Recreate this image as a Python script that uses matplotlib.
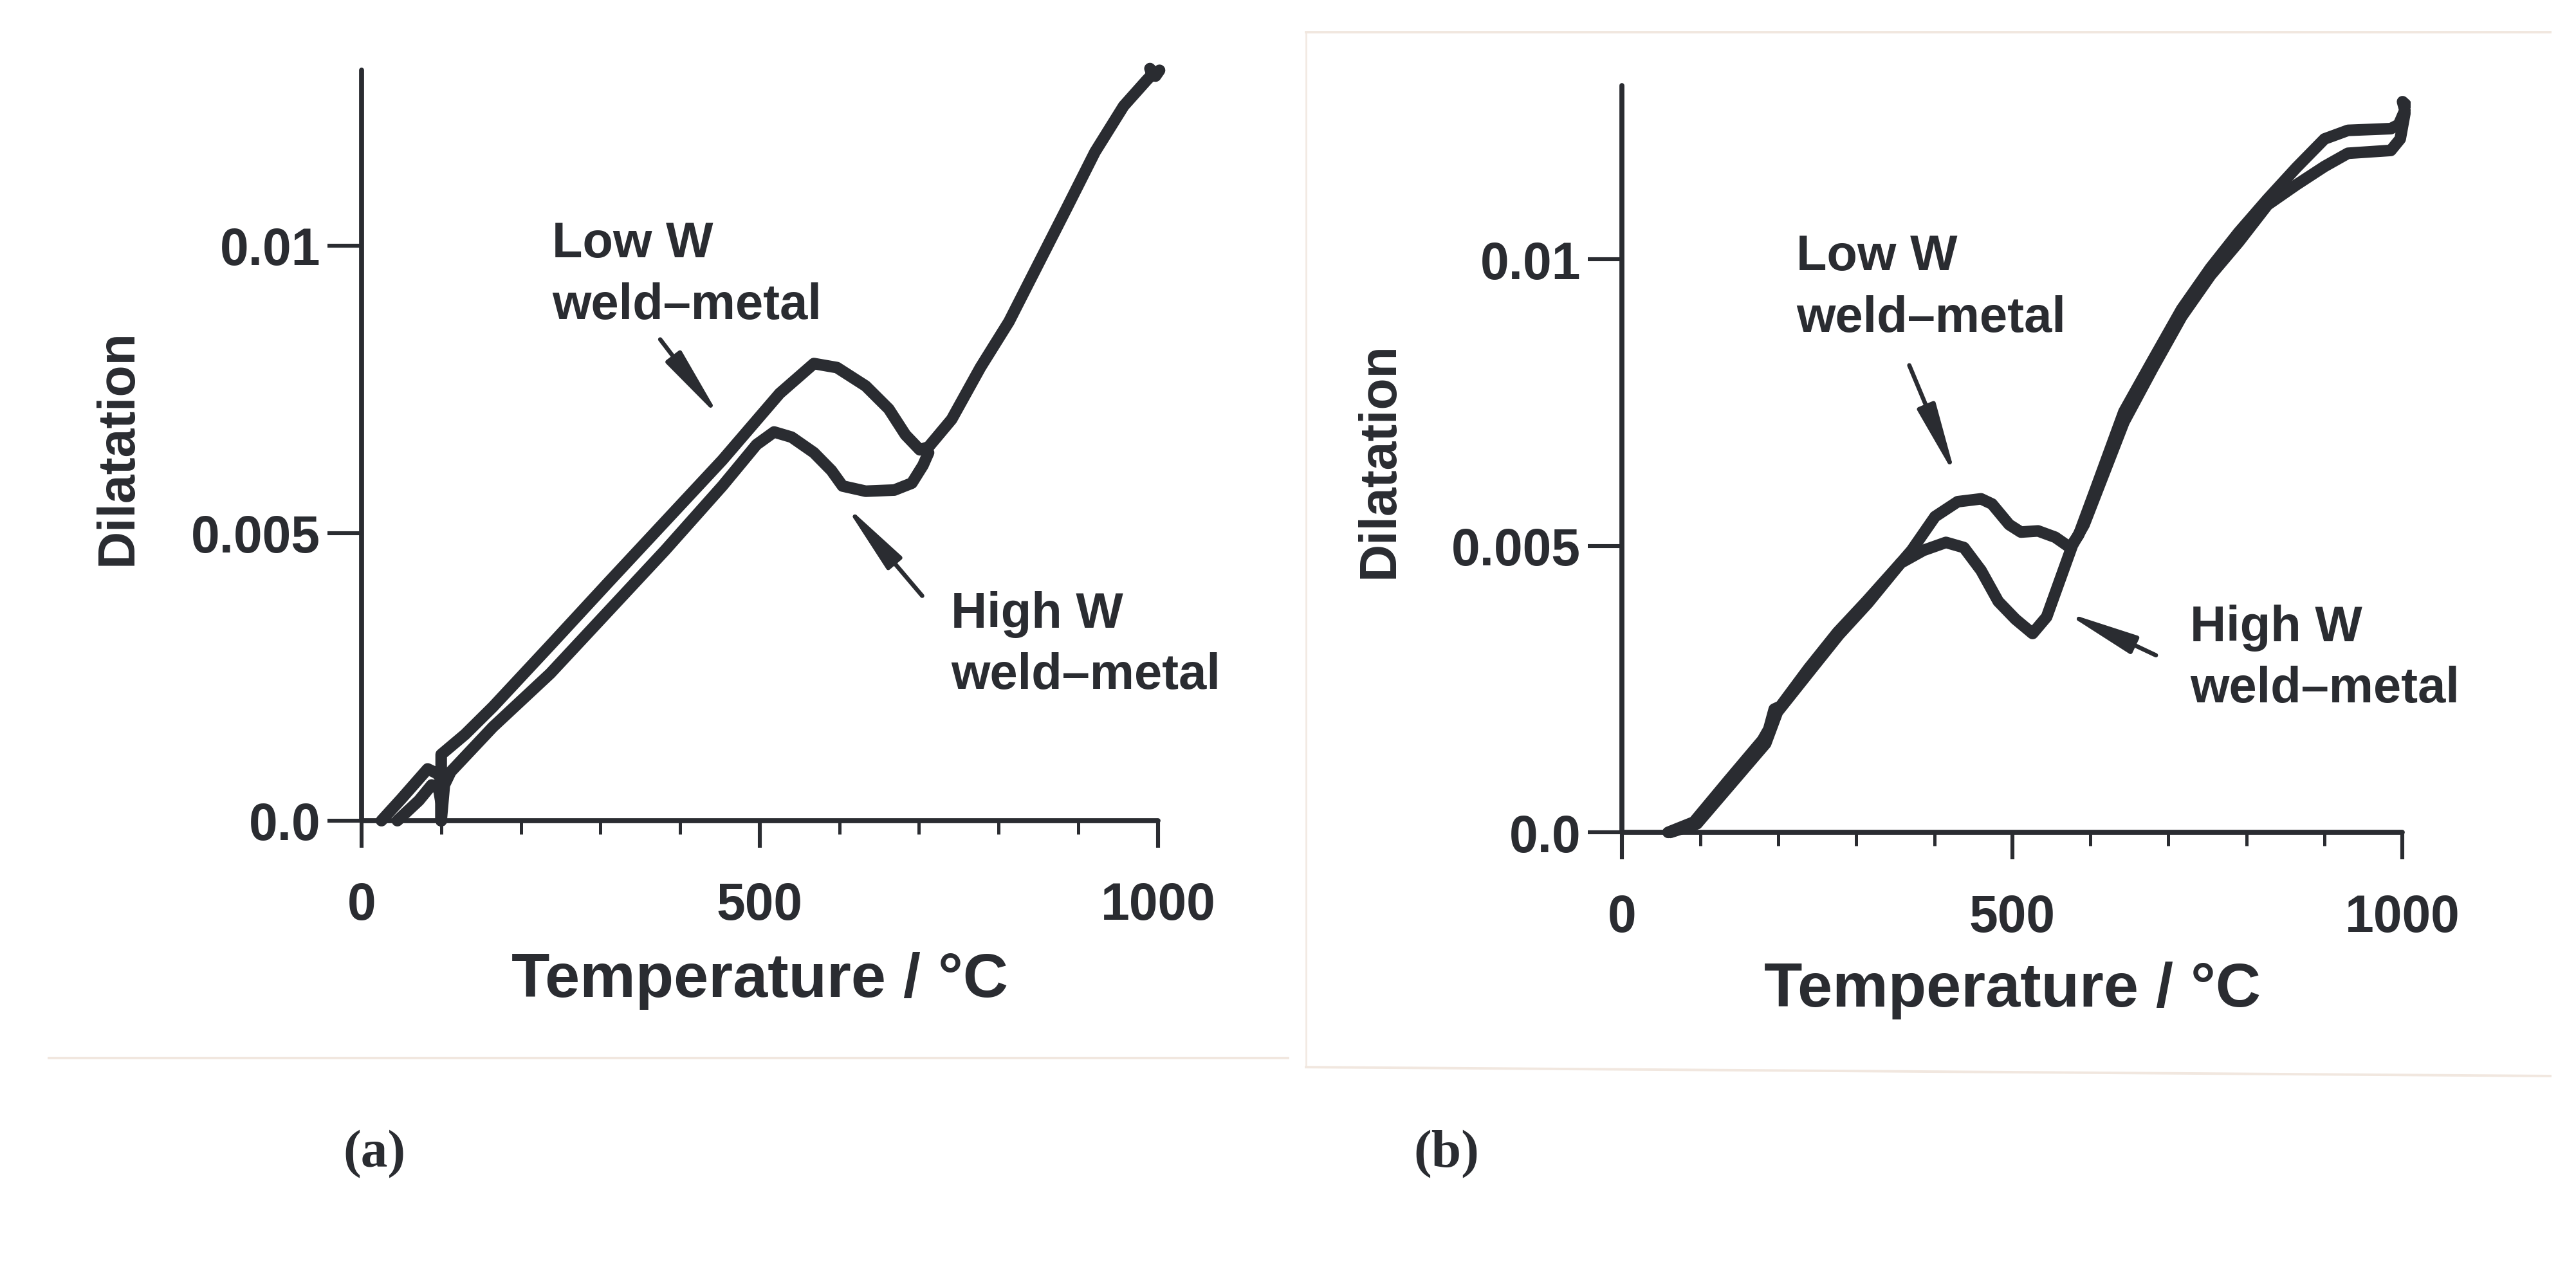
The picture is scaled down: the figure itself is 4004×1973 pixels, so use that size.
import matplotlib
matplotlib.use("Agg")
import matplotlib.pyplot as plt
from matplotlib.ticker import FixedLocator, MultipleLocator, FixedFormatter
from matplotlib.lines import Line2D

# ---------------- data (temperature / degC, dilatation x1e-3) ----------------
a_low_T = [25, 50, 83, 95, 100, 100, 100, 130, 165, 237, 309, 381, 453, 489, 525,
           568, 597, 633, 662, 683, 701, 712, 741, 777, 813, 849, 885, 921, 957,
           986, 993, 990, 997, 1002]
a_low_D = [0.0, 0.38, 0.9, 0.82, 0.72, 0.0, 1.15, 1.5, 1.98, 3.05, 4.13, 5.2, 6.27,
           6.85, 7.43, 7.95, 7.88, 7.56, 7.16, 6.71, 6.45, 6.5, 6.98, 7.88, 8.68,
           9.66, 10.64, 11.63, 12.43, 12.88, 12.98, 13.08, 12.95, 13.05]

a_high_T = [45, 72, 88, 97, 100, 100, 104, 112, 165, 237, 309, 381, 453, 496, 518,
            540, 568, 590, 604, 633, 669, 691, 705, 712]
a_high_D = [0.0, 0.35, 0.62, 0.55, 0.3, 0.0, 0.62, 0.85, 1.63, 2.56, 3.63, 4.7,
            5.82, 6.54, 6.76, 6.67, 6.4, 6.09, 5.82, 5.73, 5.75, 5.87, 6.18, 6.4]

b_low_T = [59, 92, 136, 180, 188, 195, 203, 239, 276, 313, 357, 371, 401, 430, 460,
           474, 496, 511, 533, 555, 574, 585, 607, 643, 680, 717, 754, 790, 827,
           864, 900, 930, 985, 995, 1003, 1000, 1004]
b_low_D = [0.0, 0.18, 0.9, 1.61, 1.8, 2.15, 2.2, 2.86, 3.49, 4.03, 4.7, 4.92, 5.51,
           5.77, 5.82, 5.73, 5.37, 5.24, 5.26, 5.15, 4.97, 5.19, 6.0, 7.34, 8.24,
           9.13, 9.85, 10.47, 11.05, 11.6, 12.1, 12.25, 12.28, 12.35, 12.6, 12.75,
           12.7]

b_high_T = [62, 96, 140, 184, 199, 241, 278, 315, 357, 386, 415, 438, 460, 482, 504,
            526, 544, 563, 577, 592, 643, 680, 717, 754, 790, 827, 864, 900, 930,
            985, 997, 1003]
b_high_D = [0.0, 0.15, 0.85, 1.55, 2.1, 2.82, 3.45, 4.0, 4.7, 4.92, 5.06, 4.97,
            4.57, 4.03, 3.72, 3.47, 3.76, 4.48, 5.01, 5.37, 7.16, 8.1, 9.0, 9.72,
            10.3, 10.95, 11.3, 11.62, 11.85, 11.9, 12.1, 12.55]

y_ticks = [0.0, 0.005, 0.01]
y_tick_labels = ["0.0", "0.005", "0.01"]
x_ticks = [0, 500, 1000]
x_tick_labels = ["0", "500", "1000"]

x_label = "Temperature / °C"
y_label = "Dilatation"
low_label = ["Low W", "weld–metal"]
high_label = ["High W", "weld–metal"]
panel_labels = ["(a)", "(b)"]

INK = "#2a2c31"
SANS = ["Liberation Sans", "DejaVu Sans"]
SERIF = ["Liberation Serif", "DejaVu Serif"]

fig = plt.figure(figsize=(20.02, 9.87), dpi=200)
fig.patch.set_facecolor("white")

# faint scan borders
fig.add_artist(Line2D([0.019, 0.50], [0.166, 0.166], color="#f1e7df", lw=1.4))
fig.add_artist(Line2D([0.507, 0.507], [0.159, 0.974], color="#f2e9e2", lw=1.0))
fig.add_artist(Line2D([0.507, 0.99], [0.974, 0.974], color="#f1e7df", lw=1.4))
fig.add_artist(Line2D([0.507, 0.99], [0.159, 0.152], color="#f1e7df", lw=1.4))

panels = [
    dict(pos=[0.1218, 0.3169, 0.3308, 0.6340], low=(a_low_T, a_low_D),
         high=(a_high_T, a_high_D), ytop=0.01305,
         low_txt=(239, 9.81), high_txt=(740, 3.37),
         low_arrow=((375, 8.37), (451, 6.99)), high_arrow=((704, 3.91), (606, 5.51)),
         ylabel_x=184, xlabel_y=1525, panel_xy=(582, 1795)),
    dict(pos=[0.6115, 0.3078, 0.3242, 0.6319], low=(b_low_T, b_low_D),
         high=(b_high_T, b_high_D), ytop=0.01303,
         low_txt=(223, 9.82), high_txt=(728, 3.35),
         low_arrow=((368, 8.15), (428, 6.19)), high_arrow=((684, 3.09), (566, 3.85)),
         ylabel_x=2145, xlabel_y=1540, panel_xy=(2248, 1795)),
]

W, H = 4004, 1974
for i, p in enumerate(panels):
    ax = fig.add_axes(p["pos"])
    ax.set_xlim(-60, 1010)
    ax.set_ylim(-0.0008, 0.0132)
    for k in ("top", "right"):
        ax.spines[k].set_visible(False)
    for k in ("left", "bottom"):
        ax.spines[k].set_linewidth(2.8)
        ax.spines[k].set_color(INK)
        ax.spines[k].set_capstyle("round")
        ax.spines[k].set_position(("data", 0))
    ax.spines["left"].set_bounds(0, p["ytop"])
    ax.spines["bottom"].set_bounds(0, 1000)

    for T, D in (p["low"], p["high"]):
        ax.plot(T, [d * 1e-3 for d in D], color=INK, lw=6.5,
                solid_joinstyle="round", solid_capstyle="round", zorder=3)

    ax.yaxis.set_major_locator(FixedLocator(y_ticks))
    ax.yaxis.set_major_formatter(FixedFormatter(y_tick_labels))
    ax.xaxis.set_major_locator(FixedLocator(x_ticks))
    ax.xaxis.set_major_formatter(FixedFormatter(x_tick_labels))
    ax.xaxis.set_minor_locator(MultipleLocator(100))
    ax.tick_params(axis="y", which="major", direction="out", length=19, width=2.2,
                   color=INK, pad=4, labelsize=29, labelcolor=INK)
    ax.tick_params(axis="x", which="major", direction="out", length=15, width=2.2,
                   color=INK, pad=19, labelsize=29, labelcolor=INK)
    ax.tick_params(axis="x", which="minor", direction="out", length=7.5, width=1.8,
                   color=INK)
    for lab in ax.get_xticklabels() + ax.get_yticklabels():
        lab.set_family(SANS)
        lab.set_fontweight("bold")

    # annotations
    for (tx, ty), lines in ((p["low_txt"], low_label), (p["high_txt"], high_label)):
        ax.text(tx, ty * 1e-3, lines[0], fontsize=28, fontweight="bold",
                family=SANS, color=INK, ha="left", va="baseline")
        ax.text(tx, (ty - 1.07) * 1e-3, lines[1], fontsize=28, fontweight="bold",
                family=SANS, color=INK, ha="left", va="baseline")

    for (t0, d0), (t1, d1) in [p["low_arrow"], p["high_arrow"]]:
        ax.annotate("", xy=(t1, d1 * 1e-3), xytext=(t0, d0 * 1e-3),
                    arrowprops=dict(arrowstyle="-|>,head_length=1.7,head_width=0.22",
                                    color=INK, lw=2.4, mutation_scale=20,
                                    shrinkA=0, shrinkB=0))

    # axis labels
    x0 = p["pos"][0] + p["pos"][2] * (60 + 500) / 1070
    fig.text(x0, 1 - p["xlabel_y"] / H, x_label, fontsize=35, fontweight="bold",
             family=SANS, color=INK, ha="center", va="center")
    ymid = p["pos"][1] + p["pos"][3] * (0.8 + 6.5) / 14.0
    fig.text(p["ylabel_x"] / W, ymid, y_label, fontsize=29, fontweight="bold",
             family=SANS, color=INK, ha="center", va="center", rotation=90)
    px, py = p["panel_xy"]
    fig.text(px / W, 1 - py / H, panel_labels[i], fontsize=30, fontweight="bold",
             family=SERIF, color=INK, ha="center", va="center")

fig.savefig("out.png", dpi=200, facecolor="white")
